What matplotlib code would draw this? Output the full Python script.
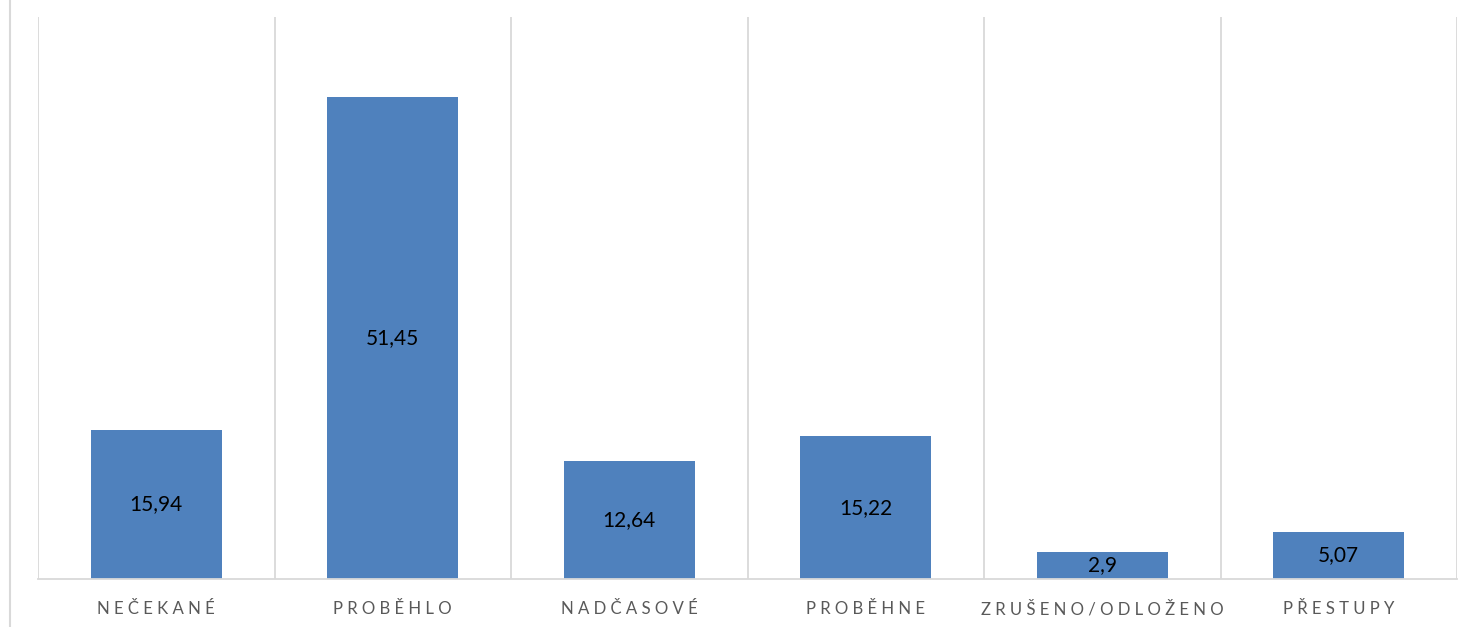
import matplotlib
matplotlib.use("Agg")
import matplotlib.pyplot as plt
from matplotlib.lines import Line2D

categories = ["NEČEKANÉ", "PROBĚHLO", "NADČASOVÉ", "PROBĚHNE", "ZRUŠENO/ODLOŽENO", "PŘESTUPY"]
values = [15.94, 51.45, 12.64, 15.22, 2.9, 5.07]
value_labels = ["15,94", "51,45", "12,64", "15,22", "2,9", "5,07"]

plt.rcParams['font.family'] = ['Lato', 'DejaVu Sans']

fig = plt.figure(figsize=(14.8, 6.27), dpi=100)
ax = fig.add_axes([38 / 1480, 48 / 627, 1419 / 1480, 562 / 627])

x = list(range(len(categories)))
bars = ax.bar(x, values, width=0.555, color="#4F81BD", zorder=3)

for b, lab in zip(bars, value_labels):
    ax.text(b.get_x() + b.get_width() / 2, b.get_height() / 2, lab,
            ha="center", va="center", fontsize=15, color="black", zorder=4)

ax.set_xlim(-0.5, len(categories) - 0.5)
ax.set_ylim(0, 60)

# category boundary gridlines
for i in range(len(categories) + 1):
    ax.axvline(i - 0.5, color="#D9D9D9", lw=1.3, zorder=1)

ax.set_yticks([])
ax.set_xticks(x)
ax.set_xticklabels([" ".join(c) for c in categories], fontsize=12.1, color="#595959")
ax.tick_params(axis="x", length=0, pad=16)

for s in ["top", "right", "left"]:
    ax.spines[s].set_visible(False)
ax.spines["bottom"].set_color("#D9D9D9")
ax.spines["bottom"].set_linewidth(1.3)
ax.spines["bottom"].set_zorder(5)

# chart area border on the left
fig.add_artist(Line2D([9.5 / 1480, 9.5 / 1480], [0, 1], color="#D9D9D9", lw=1.5,
                      transform=fig.transFigure))

fig.savefig("out.png", dpi=100)
